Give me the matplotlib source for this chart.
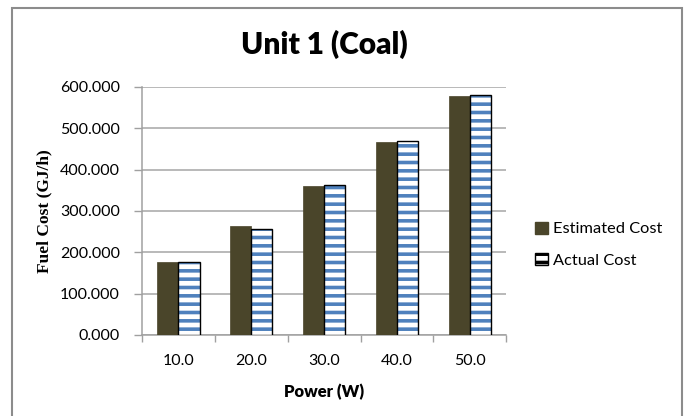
import matplotlib.pyplot as plt
import matplotlib.patches as patches
import numpy as np

plt.rcParams['font.family'] = ['Lato', 'DejaVu Sans']
plt.rcParams['hatch.linewidth'] = 2.6

# --- DATA ---
power = ['10.0', '20.0', '30.0', '40.0', '50.0']
estimated_cost = [176, 264, 361, 466, 578]
actual_cost = [176, 256, 362, 468, 580]
y_ticks = [0, 100, 200, 300, 400, 500, 600]

fig = plt.figure(figsize=(6.86, 4.16), dpi=100)
ax = fig.add_axes([0.207, 0.195, 0.531, 0.596])

x = np.arange(len(power))
w = 0.29

# --- BARS ---
ax.bar(x - w/2, estimated_cost, w, color='#4A452A', edgecolor='#4A452A',
       linewidth=0.5, label='Estimated Cost', zorder=3)
ax.bar(x + w/2, actual_cost, w, facecolor='white', edgecolor='#4F81BD',
       hatch='--', linewidth=0, zorder=3)
ax.bar(x + w/2, actual_cost, w, fill=False, edgecolor='black',
       linewidth=1.0, zorder=4)

# legend handles
h1 = patches.Patch(facecolor='#4A452A', edgecolor='#4A452A', label='Estimated Cost')
h2 = patches.Patch(facecolor='white', edgecolor='black', linewidth=1.0,
                   hatch='--', label='Actual Cost')

# --- AXES ---
ax.set_xlim(-0.5, len(power) - 0.5)
ax.set_ylim(0, 600)
ax.set_yticks(y_ticks)
ax.set_yticklabels([f"{v:.3f}" for v in y_ticks], fontsize=11.5)
ax.set_xticks(x)
ax.set_xticklabels(power, fontsize=11.5)
ax.set_xticks(np.arange(len(power) + 1) - 0.5, minor=True)
ax.tick_params(axis='x', which='major', length=0, pad=14)
ax.tick_params(axis='x', which='minor', length=5, color='#A0A0A0', width=1)
ax.tick_params(axis='y', length=6, color='#A0A0A0', width=1, pad=10)

ax.grid(axis='y', color='#A6A6A6', linewidth=1.1, zorder=0)
ax.set_axisbelow(True)
for side in ['top', 'right']:
    ax.spines[side].set_visible(False)
for side in ['left', 'bottom']:
    ax.spines[side].set_color('#A0A0A0')
    ax.spines[side].set_linewidth(1.1)

ax.set_title("Unit 1 (Coal)", fontsize=21.5, fontweight='heavy', pad=24)
ax.set_xlabel("Power (W)", fontsize=12, fontweight='heavy', labelpad=11)
ax.set_ylabel("Fuel Cost (GJ/h)", fontsize=12.5, fontweight='bold',
              family=['Liberation Serif'], labelpad=5)

fig.legend(handles=[h1, h2], loc='center left', bbox_to_anchor=(0.759, 0.412),
           frameon=False, fontsize=11.8, handlelength=0.75, handleheight=0.75,
           handletextpad=0.3, labelspacing=1.0)

# --- OUTER BORDER ---
border = patches.Rectangle((12/686, -0.1), 670/686, 1.1 - 8/416,
                           transform=fig.transFigure, fill=False,
                           edgecolor='#8C8C8C', linewidth=1.5)
fig.add_artist(border)

fig.savefig('out.png', dpi=100)
